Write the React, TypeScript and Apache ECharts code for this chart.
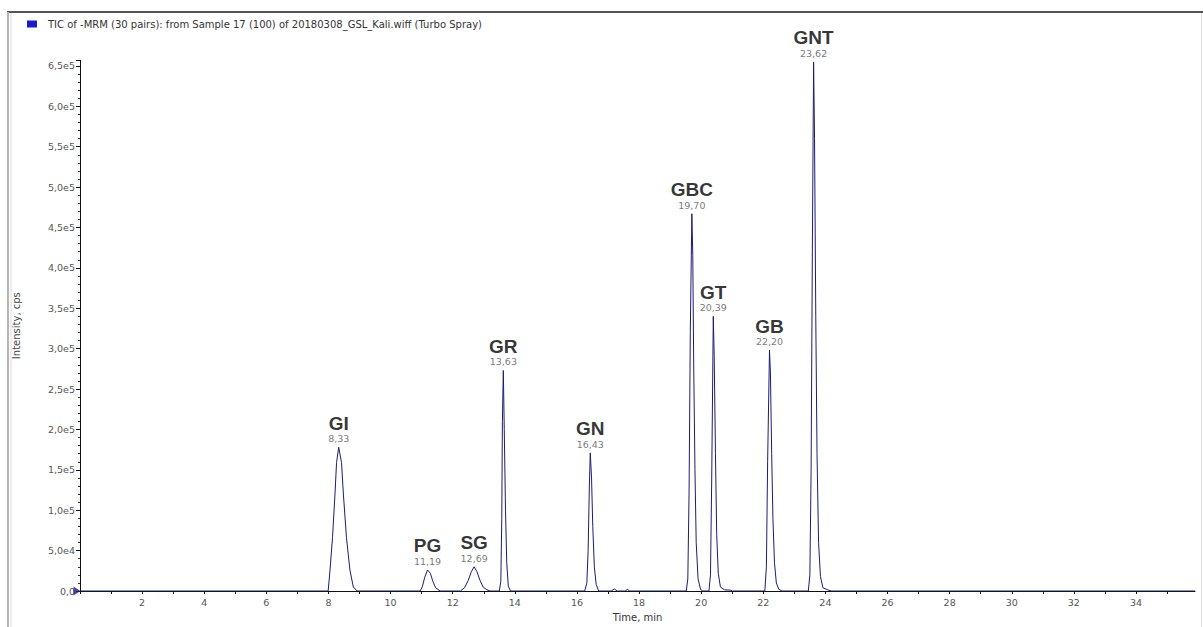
import React, { useEffect, useRef } from "react";
import * as echarts from "echarts";

// Total ion chromatogram, -MRM acquisition
const traceName =
  "TIC of -MRM (30 pairs): from Sample 17 (100) of 20180308_GSL_Kali.wiff (Turbo Spray)";

// Identified peaks: name, retention time (min) and apex intensity (cps)
const peakNames = ["GI", "PG", "SG", "GR", "GN", "GBC", "GT", "GB", "GNT"];
const peakTimes = [8.33, 11.19, 12.69, 13.63, 16.43, 19.7, 20.39, 22.2, 23.62];
const peakHeights = [178000, 26000, 30000, 273000, 171000, 467000, 340000, 298000, 655000];

// Leading and trailing flanks of each peak, [time, intensity]
const riseGI = [[7.99, 0], [8.05, 26000], [8.13, 66000], [8.21, 120000], [8.26, 159000]];
const fallGI = [[8.42, 159000], [8.48, 120000], [8.58, 66000], [8.69, 26000], [8.8, 5000], [8.92, 0]];
const risePG = [[10.95, 0], [11.02, 5000], [11.1, 17000]];
const fallPG = [[11.28, 22000], [11.36, 12000], [11.45, 4000], [11.6, 0]];
const riseSG = [[12.25, 0], [12.38, 4000], [12.5, 13000], [12.6, 24000]];
const fallSG = [[12.78, 24000], [12.88, 13000], [12.98, 5000], [13.1, 1500], [13.2, 0]];
const riseGR = [[13.5, 0], [13.55, 12000], [13.58, 90000], [13.6, 210000]];
const fallGR = [[13.66, 200000], [13.7, 100000], [13.74, 35000], [13.79, 6000], [13.86, 0]];
const riseGN = [[16.25, 0], [16.32, 10000], [16.36, 50000], [16.4, 130000]];
const fallGN = [[16.47, 140000], [16.51, 80000], [16.56, 30000], [16.62, 8000], [16.7, 0],
  [17.1, 0], [17.2, 2500], [17.3, 0], [17.55, 0], [17.62, 2000], [17.7, 0]];
const riseGBC = [[19.52, 0], [19.57, 15000], [19.61, 120000], [19.65, 320000]];
const fallGBC = [[19.73, 415000], [19.76, 280000], [19.8, 150000], [19.84, 60000], [19.9, 15000], [19.98, 2000], [20.05, 0]];
const riseGT = [[20.25, 0], [20.3, 20000], [20.34, 140000]];
const fallGT = [[20.42, 290000], [20.46, 170000], [20.5, 70000], [20.55, 22000], [20.62, 5000], [20.75, 1500], [20.95, 1000], [21.0, 0]];
const riseGB = [[22.05, 0], [22.1, 30000], [22.14, 160000]];
const fallGB = [[22.23, 270000], [22.27, 170000], [22.31, 90000], [22.36, 35000], [22.42, 10000], [22.5, 2000], [22.6, 0]];
const riseGNT = [[23.45, 0], [23.5, 20000], [23.54, 150000], [23.58, 420000]];
const fallGNT = [[23.65, 560000], [23.69, 340000], [23.73, 170000], [23.78, 60000], [23.84, 18000], [23.92, 4000], [24.1, 1000], [24.2, 0]];

const rises = [riseGI, risePG, riseSG, riseGR, riseGN, riseGBC, riseGT, riseGB, riseGNT];
const falls = [fallGI, fallPG, fallSG, fallGR, fallGN, fallGBC, fallGT, fallGB, fallGNT];

const timeMax = 35.9;
const intensityMax = 657000;

const fmtComma = (v: number, d: number) => v.toFixed(d).replace(".", ",");

const fmtIntensity = (v: number) => {
  if (v === 0) return "0,0";
  if (Math.abs(v % 50000) > 1) return "";
  const exp = Math.floor(Math.log10(v) + 1e-9);
  const mant = v / Math.pow(10, exp);
  return fmtComma(mant, 1) + "e" + exp;
};

export default function App() {
  const ref = useRef<HTMLDivElement>(null);

  useEffect(() => {
    if (!ref.current) return;
    const chart = echarts.init(ref.current, null, { renderer: "svg" });

    const trace: number[][] = [[0, 0]];
    peakNames.forEach((_, i) => {
      trace.push(...rises[i], [peakTimes[i], peakHeights[i]], ...falls[i]);
    });
    trace.push([timeMax, 0]);

    const smallFont = "DejaVu Sans";

    chart.setOption({
      animation: false,
      backgroundColor: "#ffffff",
      legend: {
        left: 22,
        top: 14,
        icon: "rect",
        itemWidth: 10,
        itemHeight: 7,
        textStyle: { fontSize: 10, fontFamily: smallFont, color: "#333", padding: [0, 0, 0, 6] },
        data: [{ name: traceName, itemStyle: { color: "#1a1ad0" } }],
        selectedMode: false,
      },
      graphic: [
        { type: "line", shape: { x1: 7, y1: 12, x2: 1203, y2: 12 }, style: { stroke: "#555", lineWidth: 2 }, silent: true },
        { type: "line", shape: { x1: 8, y1: 12, x2: 8, y2: 627 }, style: { stroke: "#b5b5b5", lineWidth: 2 }, silent: true },
        { type: "line", shape: { x1: 11, y1: 13, x2: 11, y2: 627 }, style: { stroke: "#dcdcdc", lineWidth: 1 }, silent: true },
        { type: "line", shape: { x1: 1201.5, y1: 13, x2: 1201.5, y2: 627 }, style: { stroke: "#e2e2e2", lineWidth: 1 }, silent: true },
      ],
      grid: { left: 80, right: 8, top: 594 - 528 * (intensityMax / 650000), bottom: 33 },
      xAxis: {
        type: "value",
        min: 0,
        max: timeMax,
        interval: 1,
        name: "Time, min",
        nameLocation: "middle",
        nameGap: 21,
        nameTextStyle: { fontSize: 10, fontFamily: smallFont, color: "#333" },
        axisLine: { lineStyle: { color: "#111", width: 1 } },
        axisTick: { show: true, length: 3, lineStyle: { color: "#111" } },
        splitLine: { show: false },
        axisLabel: {
          fontSize: 9.5,
          fontFamily: smallFont,
          color: "#555",
          margin: 6,
          showMaxLabel: false,
          formatter: (v: number) => (v > 0 && v % 2 === 0 ? String(v) : ""),
        },
      },
      yAxis: {
        type: "value",
        min: 0,
        max: intensityMax,
        interval: 50000,
        name: "Intensity, cps",
        nameLocation: "middle",
        nameGap: 59,
        nameTextStyle: { fontSize: 10, fontFamily: smallFont, color: "#444" },
        axisLine: { show: true, lineStyle: { color: "#111", width: 1 } },
        axisTick: { show: true, length: 4, lineStyle: { color: "#111" } },
        minorTick: { show: true, splitNumber: 5, length: 2, lineStyle: { color: "#333" } },
        splitLine: { show: false },
        axisLabel: {
          fontSize: 9.5,
          fontFamily: smallFont,
          color: "#555",
          margin: 5,
          formatter: fmtIntensity,
        },
      },
      series: [
        {
          name: traceName,
          type: "line",
          data: trace,
          showSymbol: false,
          symbol: "none",
          color: "#1c1c74",
          lineStyle: { color: "#1c1c74", width: 1 },
          clip: true,
        },
        {
          name: "peaks",
          type: "scatter",
          symbolSize: 0,
          silent: true,
          data: peakNames.map((n, i) => ({ name: n, value: [peakTimes[i], peakHeights[i]] })),
          label: {
            show: true,
            position: "top",
            distance: 3,
            formatter: (p: any) => `{n|${p.name}}\n{t|${fmtComma(p.value[0], 2)}}`,
            rich: {
              n: { fontSize: 19, fontWeight: "bold", fontFamily: "Liberation Sans", color: "#000", lineHeight: 20, align: "center" },
              t: { fontSize: 9.5, fontFamily: smallFont, color: "#555", lineHeight: 11, align: "center" },
            },
          },
        },
        {
          name: "origin",
          type: "scatter",
          data: [[0, 0]],
          symbol: "triangle",
          symbolRotate: -90,
          symbolSize: [9, 7],
          symbolOffset: [-3, 0],
          itemStyle: { color: "#1c1c8a" },
          silent: true,
          clip: false,
        },
      ],
    });

    return () => chart.dispose();
  }, []);

  return (
    <div
      ref={ref}
      style={{ position: "absolute", left: 0, top: 0, width: 1203, height: 627, background: "#fff" }}
    />
  );
}
